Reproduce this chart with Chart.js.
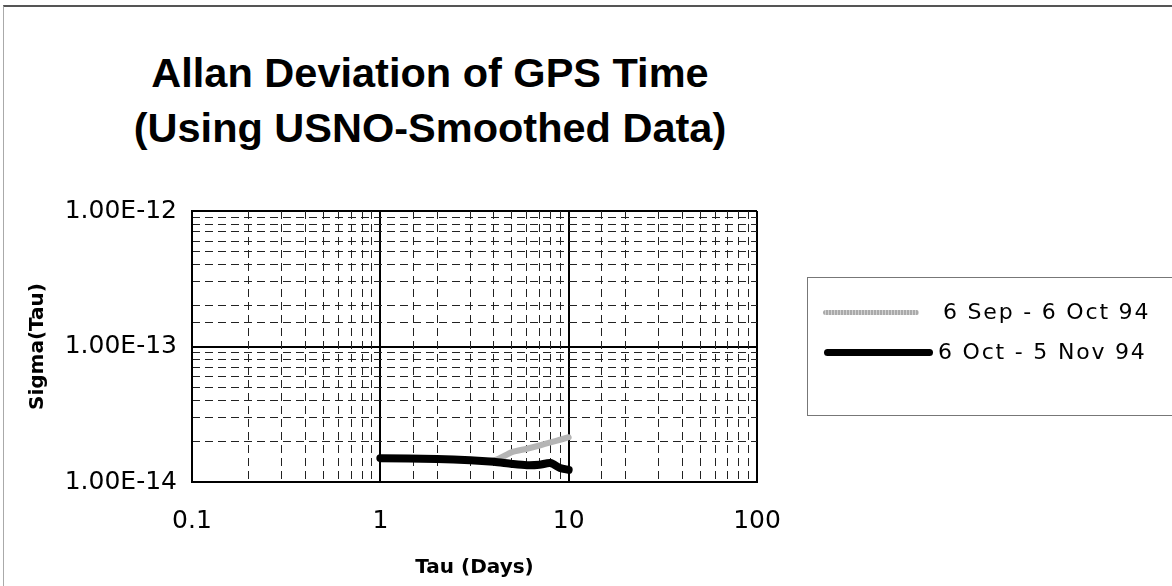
<!DOCTYPE html>
<html>
<head>
<meta charset="utf-8">
<script src="https://cdn.jsdelivr.net/npm/chart.js@4"></script>
<style>
  html, body { margin: 0; padding: 0; background: #fff; }
  #wrap { position: relative; width: 1172px; height: 586px; overflow: hidden; font-family: "Liberation Sans", Arial, sans-serif; }
  #frame { position: absolute; left: 3px; top: 5px; right: -4px; bottom: -4px; border-top: 2px solid #555; border-left: 1px solid #aaa; }
  #title { position: absolute; left: 0; width: 860px; top: 45px; text-align: center; font-weight: bold; font-size: 41.5px; line-height: 55px; color: #000; }
  #legend { position: absolute; left: 807px; top: 277px; width: 380px; height: 137px; border: 1px solid #777; border-right: none; }
  .lg-line { position: absolute; border-radius: 4px; }
  .lg-text { position: absolute; font-family: "DejaVu Sans", sans-serif; font-size: 22px; letter-spacing: 1.8px; white-space: nowrap; color: #000; }
  canvas { position: absolute; left: 0; top: 0; }
</style>
</head>
<body>
<div id="wrap">
  <div id="frame"></div>
  <div id="title">Allan Deviation of GPS Time<br>(Using USNO-Smoothed Data)</div>
  <canvas id="chart" width="1172" height="586"></canvas>
  <div id="legend"></div>
</div>
<script>
// tau in days
const TAU = [1, 2, 3, 4, 5, 6, 7, 8, 9, 10];
// sigma(tau)
const SEP_OCT = [1.49e-14, 1.47e-14, 1.45e-14, 1.44e-14, 1.66e-14, 1.76e-14, 1.86e-14, 1.96e-14, 2.05e-14, 2.14e-14];
const OCT_NOV = [1.50e-14, 1.48e-14, 1.45e-14, 1.41e-14, 1.36e-14, 1.33e-14, 1.34e-14, 1.38e-14, 1.27e-14, 1.23e-14];
const SERIES_NAMES = ["6 Sep - 6 Oct 94", "6 Oct - 5 Nov 94"];
const X_TICKS = [0.1, 1, 10, 100];
const Y_TICKS = [1e-14, 1e-13, 1e-12];

const isDecade = (v) => Math.abs(Math.log10(v) - Math.round(Math.log10(v))) < 1e-6;
const FONT = "'DejaVu Sans', sans-serif";
const DASH = [8, 5];

const pts = (ys) => TAU.map((t, i) => ({ x: t, y: ys[i] }));

const datasets = [
  { label: SERIES_NAMES[0], data: pts(SEP_OCT), borderColor: "#b4b4b4", borderWidth: 6, order: 2 },
  { label: SERIES_NAMES[1], data: pts(OCT_NOV), borderColor: "#000", borderWidth: 8, order: 1 },
].map((d) => ({ ...d, pointRadius: 0, tension: 0.25, fill: false, borderCapStyle: "round" }));

new Chart(document.getElementById("chart"), {
  type: "line",
  data: { datasets },
  options: {
    responsive: false,
    animation: false,
    layout: { padding: { left: 18, top: 211, right: 415, bottom: 0 } },
    plugins: { legend: { display: false }, tooltip: { enabled: false }, title: { display: false } },
    scales: {
      x: {
        type: "logarithmic", min: 0.1, max: 100, position: "bottom",
        afterFit: (s) => { s.height = 104; },
        border: { display: true, color: "#000", width: 2 },
        grid: { drawTicks: false, lineWidth: 2, color: (c) => isDecade(c.tick.value) ? "#000" : "rgba(0,0,0,0)" },
        ticks: {
          autoSkip: false, maxRotation: 0, padding: 24, color: "#000", font: { family: FONT, size: 25 },
          callback: (v) => X_TICKS.some((t) => Math.abs(t - v) < 1e-9) ? String(v) : "",
        },
        title: { display: true, text: "Tau (Days)", color: "#000", font: { family: FONT, size: 20, weight: "bold" }, padding: { top: 0, bottom: 6 } },
      },
      y: {
        type: "logarithmic", min: 1e-14, max: 1e-12, position: "left",
        afterFit: (s) => { s.width = 174; },
        border: { display: true, color: "#000", width: 2 },
        grid: { drawTicks: false, lineWidth: 2, color: (c) => isDecade(c.tick.value) ? "#000" : "rgba(0,0,0,0)" },
        ticks: {
          autoSkip: false, padding: 15, color: "#000", font: { family: FONT, size: 25 },
          callback: (v) => Y_TICKS.some((t) => Math.abs(t - v) / t < 1e-6) ? v.toExponential(2).toUpperCase() : "",
        },
        title: { display: true, text: "Sigma(Tau)", color: "#000", font: { family: FONT, size: 20, weight: "bold" }, padding: { top: 8, bottom: 0 } },
      },
      // minor dashed grid only
      x2: {
        type: "logarithmic", min: 0.1, max: 100, position: "top",
        afterFit: (s) => { s.height = 0; },
        border: { display: false, dash: DASH },
        grid: { drawTicks: false, lineWidth: 1, color: (c) => isDecade(c.tick.value) ? "rgba(0,0,0,0)" : "#222" },
        ticks: { display: false, autoSkip: false },
      },
      y2: {
        type: "logarithmic", min: 1e-14, max: 1e-12, position: "right",
        afterFit: (s) => { s.width = 0; },
        border: { display: false, dash: DASH },
        grid: { drawTicks: false, lineWidth: 1, color: (c) => isDecade(c.tick.value) ? "rgba(0,0,0,0)" : "#222" },
        ticks: { display: false, autoSkip: false },
      },
    },
  },
});

// legend box, built from the same series
const LEG = [
  { line: { left: 15, top: 32, width: 96, height: 5, background: "repeating-linear-gradient(90deg,#aaa 0 2px,#d2d2d2 2px 3px)" }, textLeft: 135, textTop: 21 },
  { line: { left: 16, top: 71, width: 109, height: 7, background: "#000" }, textLeft: 130, textTop: 61 },
];
document.getElementById("legend").innerHTML = SERIES_NAMES.map((name, i) => {
  const l = LEG[i].line;
  return `<div class="lg-line" style="left:${l.left}px;top:${l.top}px;width:${l.width}px;height:${l.height}px;background:${l.background}"></div>
    <div class="lg-text" style="left:${LEG[i].textLeft}px;top:${LEG[i].textTop}px">${name}</div>`;
}).join("");
</script>
</body>
</html>
